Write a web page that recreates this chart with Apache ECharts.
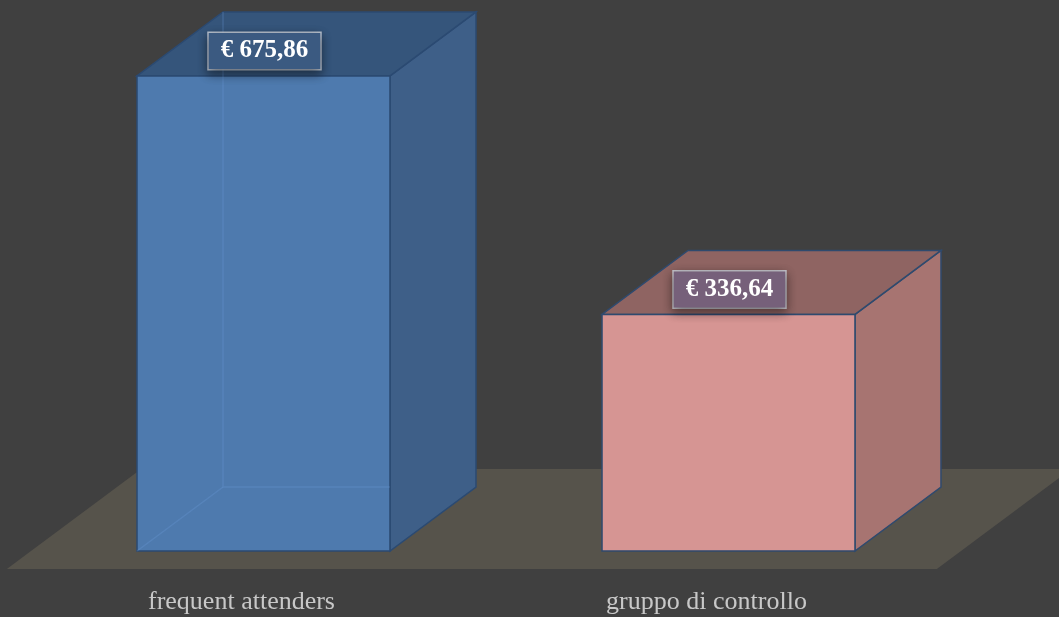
<!DOCTYPE html>
<html><head><meta charset="utf-8">
<script src="https://cdn.jsdelivr.net/npm/echarts@6/dist/echarts.min.js"></script>
<style>html,body{margin:0;padding:0;background:#404040}#c{width:1059px;height:617px}</style>
</head><body><div id="c"></div>
<script>
const categories = ['frequent attenders', 'gruppo di controllo'];
const values = [675.86, 336.64];
const yMin = 0, yMax = 700;

const palette = [
  {front:'#4e7aae', top:'#35557b', side:'#3e5f88', edge:'#2b4a72', label:'#3b5a81', ghost:'rgba(110,160,225,0.25)'},
  {front:'#d69593', top:'#8f6462', side:'#a77471', edge:'#2f4a6e', label:'#76607a', ghost:null}
];
const DX = 86, DY = -64;      // box depth offset
const FLOOR_HALF = 50;        // floor half depth (vertical)

function fmt(v){ return '€ ' + v.toFixed(2).replace('.', ','); }

const chart = echarts.init(document.getElementById('c'), null, {renderer:'canvas'});
chart.setOption({
  backgroundColor:'#404040',
  animation:false,
  grid:{left:31, right:98, top:59, bottom:66},
  xAxis:{type:'category', data:categories,
    axisLine:{show:false}, axisTick:{show:false}, splitLine:{show:false},
    axisLabel:{color:'#c8c8c8', fontFamily:'Liberation Serif', fontSize:26, margin:38, padding:[0,44,0,0]}},
  yAxis:{type:'value', min:yMin, max:yMax, show:false},
  series:[
    {
      type:'custom', clip:false, z:1, silent:true,
      data:[[0,0]],
      renderItem(params, api){
        const cs = params.coordSys;
        const fdx = FLOOR_HALF * DX / -DY;
        const yMid = cs.y + cs.height + DY/2;
        const xl = cs.x + DX/2, xr = cs.x + cs.width + DX/2;
        return {type:'polygon', shape:{points:[
          [xl - fdx, yMid + FLOOR_HALF], [xr - fdx, yMid + FLOOR_HALF],
          [xr + fdx, yMid - FLOOR_HALF], [xl + fdx, yMid - FLOOR_HALF]]},
          style:{fill:'#56534b'}};
      }
    },
    {
      type:'custom', clip:false, z:2, silent:true,
      data: values.map((v,i)=>[i, v]),
      renderItem(params, api){
        const i = params.dataIndex;
        const p = palette[i];
        const top = api.coord([api.value(0), api.value(1)]);
        const base = api.coord([api.value(0), 0]);
        const bw = api.size([1,0])[0] * 0.544;
        const x0 = top[0] - bw/2, x1 = top[0] + bw/2, yT = top[1], yB = base[1];
        const lw = 1.5;
        const children = [
          {type:'polygon', shape:{points:[[x1,yT],[x1+DX,yT+DY],[x1+DX,yB+DY],[x1,yB]]},
            style:{fill:p.side, stroke:p.edge, lineWidth:lw}},
          {type:'polygon', shape:{points:[[x0,yT],[x0+DX,yT+DY],[x1+DX,yT+DY],[x1,yT]]},
            style:{fill:p.top, stroke:p.edge, lineWidth:lw}},
          {type:'rect', shape:{x:x0, y:yT, width:bw, height:yB-yT},
            style:{fill:p.front, stroke:p.edge, lineWidth:lw}}
        ];
        if (p.ghost) {
          children.push({type:'polyline', shape:{points:[[x0+DX,yT+DY],[x0+DX,yB+DY],[x1,yB+DY]]},
            style:{fill:null, stroke:p.ghost, lineWidth:1.5}});
          children.push({type:'line', shape:{x1:x0, y1:yB, x2:x0+DX, y2:yB+DY},
            style:{stroke:p.ghost, lineWidth:1.5}});
        }
        children.push({type:'text', x: top[0] + 1, y: yT - 25,
          style:{text: fmt(api.value(1)), font:'bold 25px "Liberation Serif"', fill:'#ffffff',
            align:'center', verticalAlign:'middle',
            backgroundColor:p.label, borderColor:'rgba(205,210,220,0.85)', borderWidth:1.5,
            padding:[6,12,5,12],
            shadowBlur:10, shadowColor:'rgba(0,0,0,0.45)', shadowOffsetY:4}});
        return {type:'group', children};
      }
    }
  ]
});
</script>
</body></html>
